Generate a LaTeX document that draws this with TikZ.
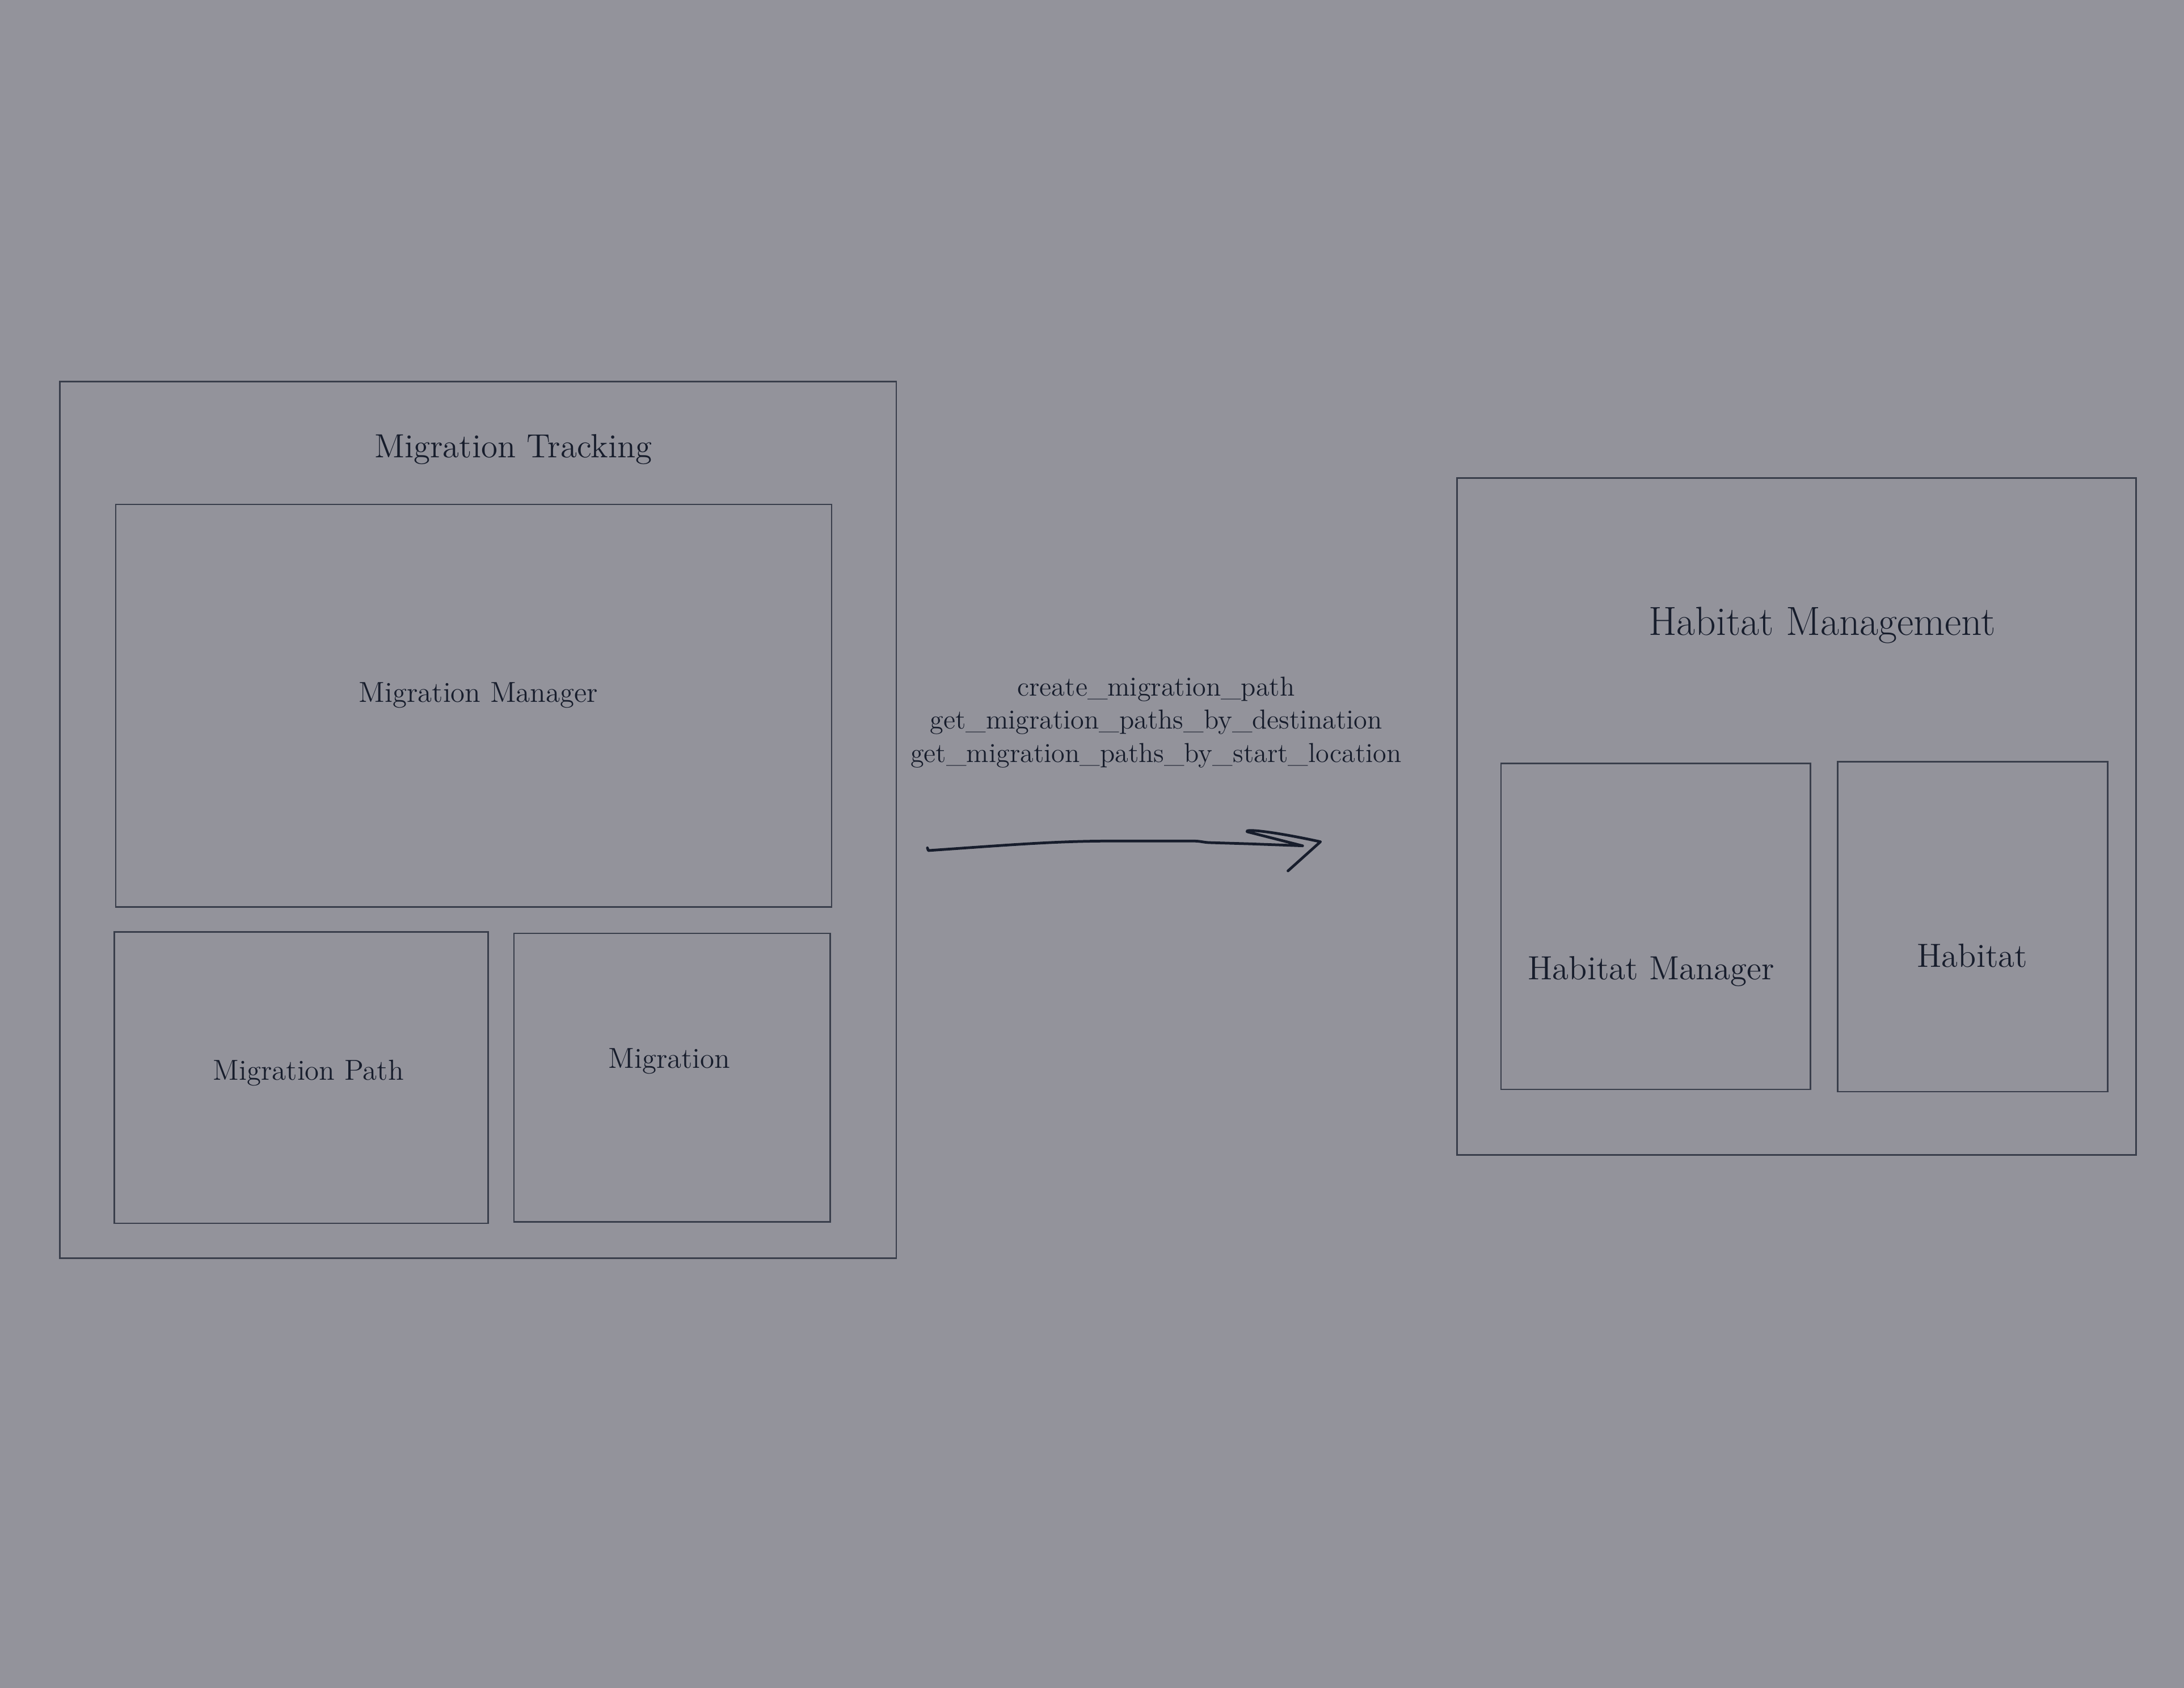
\documentclass[tikz,border=0pt]{standalone}
\usepackage{fontspec}
\usetikzlibrary{positioning,fit,calc}
\definecolor{bgSlate}{HTML}{93939B}
\definecolor{inkNavy}{HTML}{171D2C}
\definecolor{frameGray}{HTML}{393E4B}

\begin{document}
\begin{tikzpicture}[
    x=0.02cm, y=-0.02cm,
    frame/.style={draw=frameGray, line width=0.6pt, inner sep=0pt},
    boxlabel/.style={text=inkNavy, inner sep=0pt, anchor=base},
    bigfont/.style={font=\fontsize{16.6}{19}\selectfont},
    midfont/.style={font=\fontsize{13.7}{16}\selectfont},
    smallfont/.style={font=\fontsize{11.8}{13.6}\selectfont},
    callnote/.style={text=inkNavy, inner sep=0pt, align=center,
                     font=\fontsize{11.2}{13.6}\selectfont},
    sketch/.style={draw=inkNavy, line width=1.1pt, line cap=round, line join=round},
]

% background (fixes the page size)
\path[fill=bgSlate, use as bounding box] (0,0) rectangle (1568,1211.6);

%-----------------------------------------------------------------------
% Migration Tracking (left group)
\node[frame, fit={(43,274) (643.4,903)}] (track) {};
\node[boxlabel, midfont] (tracklbl) at (368.5,328.6) {Migration Tracking};

\node[frame, fit={(83,362) (597,651)}] (mmgr) {};
\node[boxlabel, smallfont] (mmgrlbl) at (343.5,504) {Migration Manager};

\node[frame, fit={(82,669) (350.5,878)}] (mpath) {};
\node[boxlabel, smallfont] (mpathlbl) at (221.5,775.4) {Migration Path};

\node[frame, fit={(369,670) (596,877)}] (migr) {};
\node[boxlabel, smallfont] (migrlbl) at (480.6,766.6) {Migration};

%-----------------------------------------------------------------------
% Habitat Management (right group)
\node[frame, fit={(1046,343) (1533.5,829)}] (habmgmt) {};
\node[boxlabel, bigfont] (habmgmtlbl) at (1308.2,456.1) {Habitat Management};

\node[frame, fit={(1077.6,547.9) (1299.8,782)}] (habmgr) {};
\node[boxlabel, midfont] (habmgrlbl) at (1185.4,703.3) {Habitat Manager};

\node[frame, fit={(1319.4,546.7) (1513.2,783.5)}] (hab) {};
\node[boxlabel, midfont] (hablbl) at (1416,694) {Habitat};

%-----------------------------------------------------------------------
% calls between the groups
\node[callnote] (calls) at (830,518.5)
  {create\_migration\_path\\get\_migration\_paths\_by\_destination\\get\_migration\_paths\_by\_start\_location};

\coordinate (arrowStart) at (666.5,610.5);
\coordinate (arrowTip) at (948,604.2);

% hand drawn arrow
\draw[sketch] (665.8,608.6) -- (arrowStart)
  .. controls (720,606.8) and (755,603.9) .. (792.6,603.7)
  -- (858,603.7) .. controls (862,603.8) and (864,604.6) .. (868,604.8)
  -- (897.8,605.7) -- (935.2,607.1)
  -- (895.4,597) .. controls (893,594.6) and (915,597) .. (arrowTip)
  -- (924.7,625.1);

\end{tikzpicture}
\end{document}
